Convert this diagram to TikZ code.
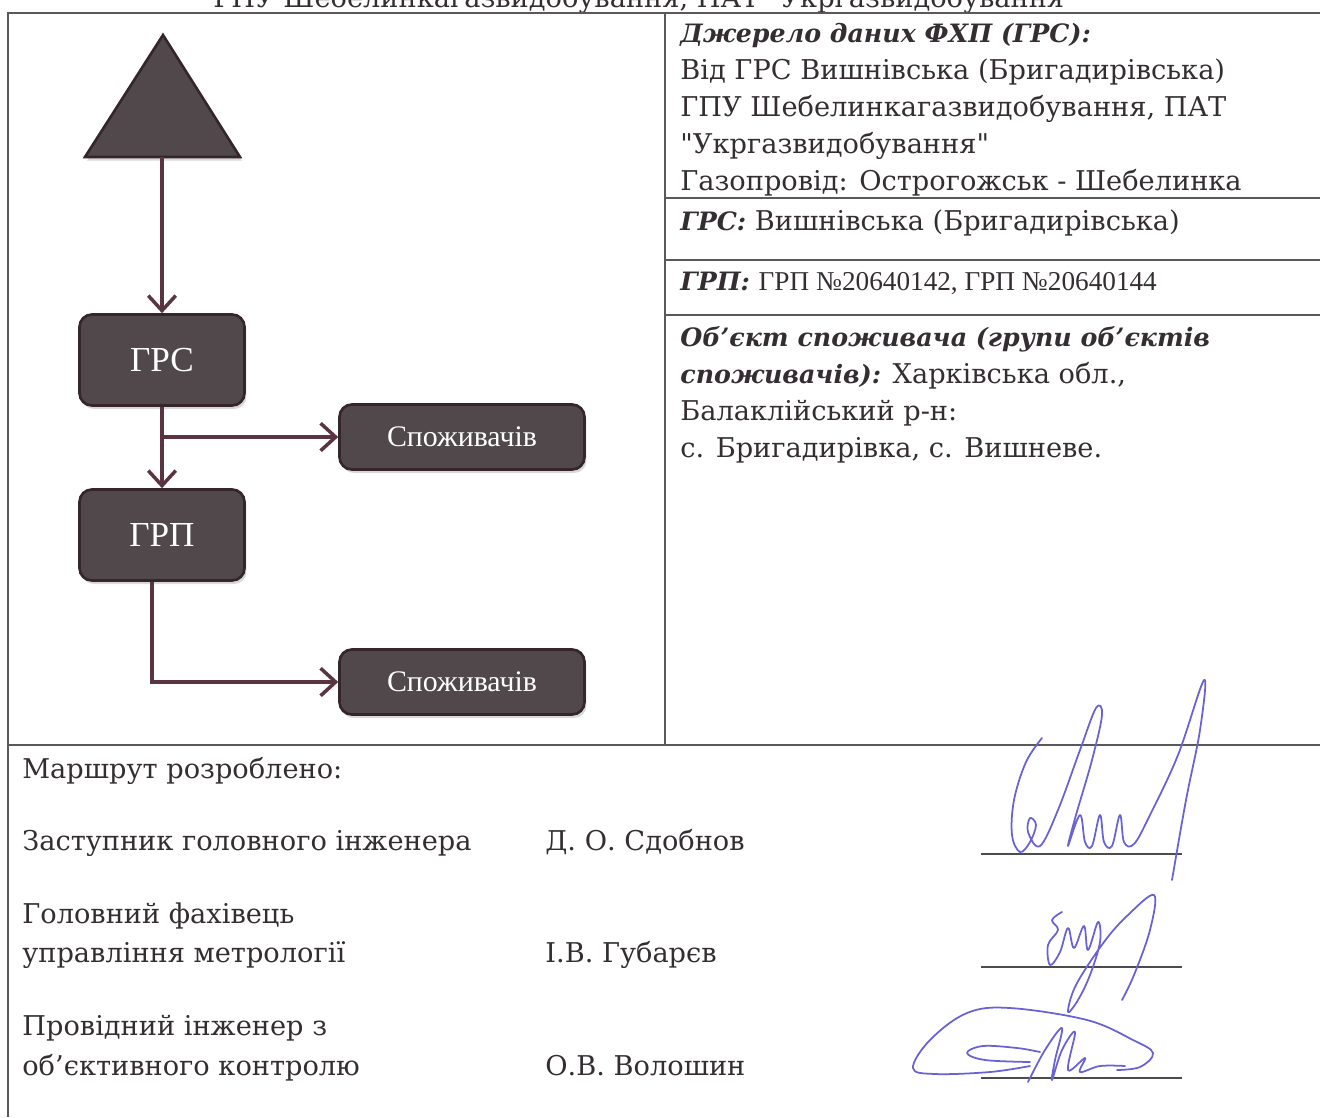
\documentclass[tikz,border=0pt]{standalone}
\usepackage{fontspec}
\setmainfont{DejaVu Serif}
\newfontfamily\timesfont{Liberation Serif}
\usepackage{xcolor}
\usepackage{tikz}
\usetikzlibrary{arrows.meta}
\usetikzlibrary{shadows}
\definecolor{boxfill}{RGB}{80,72,75}
\definecolor{boxline}{RGB}{52,38,44}
\definecolor{pipeclr}{RGB}{90,52,64}
\definecolor{ink}{RGB}{104,98,214}
\definecolor{txt}{RGB}{52,46,50}
\newcommand{\hdlabel}[1]{{\fontsize{14.4}{21}\selectfont\bfseries\itshape #1}}

\begin{document}
\begin{tikzpicture}[x=0.02cm,y=-0.02cm,
    unit/.style={draw=boxline,line width=1.5pt,fill=boxfill,rounded corners=7pt,text=white,
        font=\timesfont\fontsize{20}{24}\selectfont,minimum width=3.3cm,minimum height=1.82cm,
        drop shadow={opacity=0.3,shadow xshift=0.4mm,shadow yshift=-0.7mm}},
    consumer/.style={unit,minimum width=4.9cm,minimum height=1.3cm,font=\timesfont\fontsize{17}{20}\selectfont},
    pipe/.style={draw=pipeclr,line width=2pt,-{Straight Barb[length=3mm,width=5.5mm,line width=2pt]}},
    frame/.style={draw=black!65,line width=1pt},
    info/.style={anchor=base west,inner sep=0pt,text=txt,font=\fontsize{15.5}{21}\selectfont},
    sign/.style={draw=ink,line width=1pt,line cap=round,line join=round},
    signline/.style={draw=black!70,line width=1.2pt}]
    \useasboundingbox (0,0) rectangle (1320,1117);

    % table frame
    \node[info,anchor=base] (title) at (645,7) {ГПУ Шебелинкагазвидобування, ПАТ \textquotedbl Укргазвидобування\textquotedbl};
    \draw[frame] (8,1117) -- (8,13) -- (1320,13);
    \draw[frame] (665,13) -- (665,745);
    \draw[frame] (8,745) -- (1320,745);
    \foreach \y in {198,260,315}
        \draw[frame] (665,\y) -- (1320,\y);

    % scheme
    \draw[draw=boxline,line width=1.5pt,fill=boxfill,drop shadow={opacity=0.3,shadow xshift=0.4mm,shadow yshift=-0.7mm}]
        (163,35) -- (240,157) -- (85,157) -- cycle;
    \coordinate (src) at (162,157);
    \node[unit] (grs) at (162,360) {ГРС};
    \node[unit] (grp) at (162,535) {ГРП};
    \node[consumer] (cons1) at (462,437) {Споживачів};
    \node[consumer] (cons2) at (462,682) {Споживачів};

    \draw[pipe] (src) -- (grs.north);
    \draw[pipe] (grs.south) -- (grp.north);
    \draw[pipe] (grs.south |- cons1.west) -- (cons1.west);
    \draw[pipe] ([xshift=-0.2cm]grp.south) |- (cons2.west);

    % data source
    \foreach \txt [count=\i] in {{\hdlabel{Джерело даних ФХП (ГРС):}},
            {Від ГРС Вишнівська (Бригадирівська)},
            {ГПУ Шебелинкагазвидобування, ПАТ},
            {\textquotedbl Укргазвидобування\textquotedbl},
            {Газопровід: Острогожськ - Шебелинка}}
        \node[info] (src\i) at (680,{5+37*\i}) {\txt};
    \node[info] (grsname) at (680,230) {\hdlabel{ГРС:} Вишнівська (Бригадирівська)};
    \node[info] (grpname) at (680,290) {\hdlabel{ГРП:} {\timesfont ГРП №20640142, ГРП №20640144}};
    \foreach \txt [count=\i] in {{\hdlabel{Об’єкт споживача (групи об’єктів}},
            {\hdlabel{споживачів):} Харківська обл.,},
            {Балаклійський р-н:},
            {с. Бригадирівка, с. Вишневе.}}
        \node[info] (obj\i) at (680,{309+37*\i}) {\txt};

    % signatures
    \node[info] (route) at (22,778) {Маршрут розроблено:};
    \node[info] (pos1) at (22,850) {Заступник головного інженера};
    \node[info] (name1) at (545,850) {Д. О. Сдобнов};
    \node[info] (pos2a) at (22,923) {Головний фахівець};
    \node[info] (pos2b) at (22,962) {управління метрології};
    \node[info] (name2) at (545,962) {І.В. Губарєв};
    \node[info] (pos3a) at (22,1035) {Провідний інженер з};
    \node[info] (pos3b) at (22,1075) {об’єктивного контролю};
    \node[info] (name3) at (545,1075) {О.В. Волошин};
    \foreach \y in {854,967,1078}
        \draw[signline] (981,\y) -- (1182,\y);

    \draw[sign] plot[smooth,tension=0.6] coordinates {(1042,738) (1026,762) (1014,800) (1012,835) (1020,852) (1030,842) (1036,825) (1030,818) (1028,832) (1040,846)
        (1058,810) (1080,750) (1096,708) (1102,715) (1092,760) (1076,815) (1068,846) (1080,815) (1085,842) (1092,846) (1100,815)
        (1104,842) (1112,846) (1120,815) (1124,842) (1134,844) (1150,815) (1178,755) (1204,680) (1200,730) (1186,800) (1172,880)};
    \draw[sign] plot[smooth,tension=0.6] coordinates {(1062,912) (1052,920) (1058,930) (1048,945) (1050,965) (1060,952) (1068,928) (1074,948) (1084,926)
        (1088,950) (1098,922) (1100,942) (1090,975) (1078,1000) (1068,1012) (1076,985) (1104,942) (1128,915) (1154,895) (1150,930) (1134,975) (1122,1000)};
    \draw[sign] plot[smooth,tension=0.6] coordinates {(1117,1070) (1140,1067) (1153,1053) (1133,1040) (1087,1020) (1010,1008) (967,1013) (930,1040)
        (913,1068) (935,1074) (990,1072) (1030,1066)};
    \draw[sign] plot[smooth,tension=0.6] coordinates {(1030,1062) (985,1060) (967,1053) (983,1046) (1017,1048) (1040,1052)};
    \draw[sign] plot[smooth,tension=0.6] coordinates {(1028,1082) (1045,1050) (1062,1028) (1055,1060) (1052,1080) (1062,1050) (1075,1032)
        (1068,1070) (1085,1058) (1080,1072) (1100,1066) (1125,1066)};
\end{tikzpicture}
\end{document}
